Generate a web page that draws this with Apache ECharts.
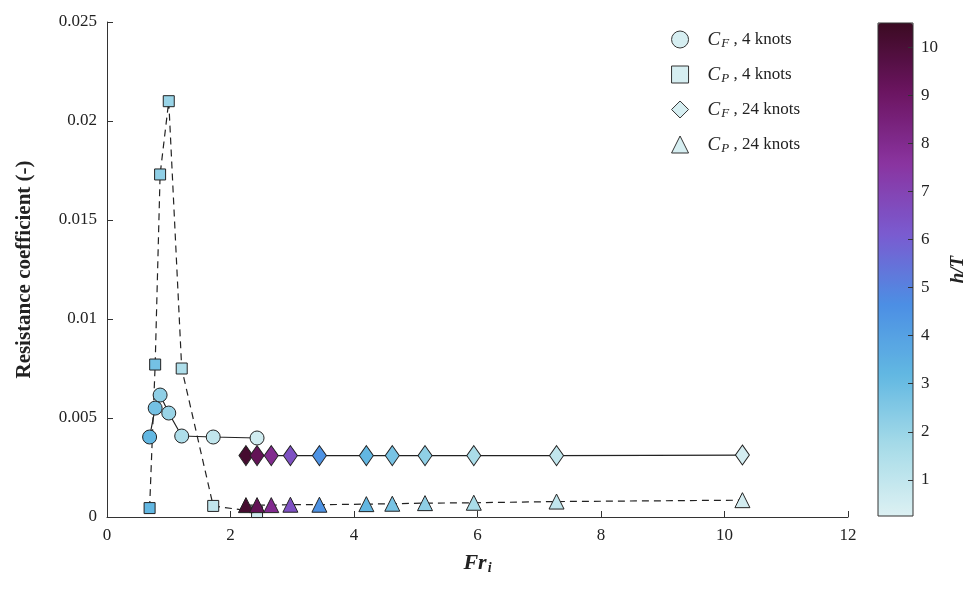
<!DOCTYPE html>
<html>
<head>
<meta charset="utf-8">
<script src="https://cdn.jsdelivr.net/npm/echarts@6/dist/echarts.min.js"></script>
<style>html,body{margin:0;background:#fff}#c{width:970px;height:594px}</style>
</head>
<body>
<div id="c"></div>
<script>
// Fr_i, coefficient, h/T
var cf4Fr = [0.69, 0.78, 0.86, 1.0, 1.21, 1.72, 2.43];
var cf4 = [0.00404, 0.0055, 0.00616, 0.00525, 0.00409, 0.00404, 0.00399];
var cp4 = [0.00045, 0.0077, 0.0173, 0.021, 0.0075, 0.00056, 0.00025];
var hT4 = [3.2, 2.8, 2.2, 2.0, 1.5, 1.0, 0.6];
var cp4Fr = [0.69, 0.78, 0.86, 1.0, 1.21, 1.72, 2.43];

var fr24 = [2.25, 2.43, 2.66, 2.97, 3.44, 4.2, 4.62, 5.15, 5.94, 7.28, 10.29];
var cf24 = [0.0031, 0.0031, 0.0031, 0.0031, 0.0031, 0.0031, 0.0031, 0.0031, 0.0031, 0.0031, 0.00313];
var cp24 = [0.0006, 0.0006, 0.0006, 0.00062, 0.00062, 0.00065, 0.00067, 0.0007, 0.00072, 0.00078, 0.00085];
var hT24 = [10.2, 9.3, 8.0, 6.5, 4.5, 3.2, 2.7, 2.2, 1.6, 1.0, 0.5];

var cbTicks = [1, 2, 3, 4, 5, 6, 7, 8, 9, 10];
var rampColors = ['#ddf1f3', '#a6dbe8', '#62b8e2', '#4c8fe4', '#7a5bd0', '#8a34a0', '#6c1562', '#3b0a22'];

function pts(xs, ys, cs) {
  return xs.map(function (x, i) { return cs ? [x, ys[i], cs[i]] : [x, ys[i]]; });
}

var serif = 'Liberation Serif';
var chart = echarts.init(document.getElementById('c'));

function lineSeries(data, dashed) {
  return {
    type: 'line', data: data, symbol: 'none', silent: true, z: 1,
    lineStyle: { color: '#222', width: 1.2, type: dashed ? [7, 5] : 'solid' }
  };
}
function markSeries(name, data, symbol, size) {
  return {
    type: 'scatter', name: name, data: data, symbol: symbol, symbolSize: size, z: 3,
    itemStyle: { borderColor: '#222', borderWidth: 1, opacity: 1 }
  };
}
var legendIcon = { color: '#d6eef1', borderColor: '#333', borderWidth: 1 };
var rich = {
  c: { fontFamily: serif, fontStyle: 'italic', fontSize: 19, color: '#222' },
  s: { fontFamily: serif, fontStyle: 'italic', fontSize: 13, color: '#222', verticalAlign: 'bottom', padding: [8, 0, 0, 1] },
  t: { fontFamily: serif, fontSize: 17, color: '#222' }
};

chart.setOption({
  animation: false,
  grid: [
    { left: 107, right: 122, top: 22, bottom: 77, outerBoundsMode: 'none' },
    { left: 878, width: 35, top: 23, height: 493, show: true, borderColor: '#333', borderWidth: 1, backgroundColor: 'transparent', z: 5, outerBoundsMode: 'none' }
  ],
  xAxis: [
    {
      gridIndex: 0, type: 'value', min: 0, max: 12, interval: 2,
      name: '{b|Fr}{bs|i}', nameLocation: 'middle', nameGap: 34,
      nameTextStyle: { rich: {
        b: { fontFamily: serif, fontStyle: 'italic', fontWeight: 'bold', fontSize: 22, color: '#222' },
        bs: { fontFamily: serif, fontStyle: 'italic', fontWeight: 'bold', fontSize: 14, color: '#222', verticalAlign: 'bottom', padding: [10, 0, 0, 1] }
      } },
      axisLine: { lineStyle: { color: '#333' } },
      axisTick: { inside: true, length: 6, lineStyle: { color: '#333' } },
      axisLabel: { fontFamily: serif, fontSize: 17, color: '#222', margin: 10 },
      splitLine: { show: false }
    },
    { gridIndex: 1, type: 'value', show: false, min: 0, max: 1 }
  ],
  yAxis: [
    {
      gridIndex: 0, type: 'value', min: 0, max: 0.025, interval: 0.005,
      name: 'Resistance coefficient (-)', nameLocation: 'middle', nameGap: 72,
      nameTextStyle: { fontFamily: serif, fontWeight: 'bold', fontSize: 21, color: '#222' },
      axisLine: { show: true, lineStyle: { color: '#333' } },
      axisTick: { show: true, inside: true, length: 6, lineStyle: { color: '#333' } },
      axisLabel: { fontFamily: serif, fontSize: 17, color: '#222', margin: 10,
        formatter: function (v) { return v === 0 ? '0' : String(+v.toFixed(3)); } },
      splitLine: { show: false }
    },
    {
      gridIndex: 1, type: 'value', position: 'right', min: 0.25, max: 10.5, z: 10,
      name: 'h/T', nameLocation: 'middle', nameGap: 36, nameRotate: 90,
      nameTextStyle: { fontFamily: serif, fontStyle: 'italic', fontWeight: 'bold', fontSize: 19, color: '#222' },
      axisLine: { show: false, onZero: false },
      axisTick: { show: true, inside: true, length: 5, customValues: cbTicks, lineStyle: { color: '#333' } },
      axisLabel: { fontFamily: serif, fontSize: 17, color: '#222', margin: 8, customValues: cbTicks },
      splitLine: { show: false }
    }
  ],
  visualMap: {
    type: 'continuous', min: 0.25, max: 10.5, dimension: 2,
    seriesIndex: [4, 5, 6, 7], padding: 0, z: 1,
    left: 878, top: 23, itemWidth: 35, itemHeight: 493,
    calculable: false, showLabel: false, text: null, hoverLink: false,
    inRange: { color: rampColors }
  },
  legend: {
    orient: 'vertical', right: 165, top: 25, itemGap: 15,
    itemWidth: 17, itemHeight: 17,
    data: [
      { name: 'cf4', icon: 'circle', itemStyle: legendIcon },
      { name: 'cp4', icon: 'rect', itemStyle: legendIcon },
      { name: 'cf24', icon: 'diamond', itemStyle: legendIcon },
      { name: 'cp24', icon: 'triangle', itemStyle: legendIcon }
    ],
    formatter: function (n) {
      var m = { cf4: ['F', '4'], cp4: ['P', '4'], cf24: ['F', '24'], cp24: ['P', '24'] }[n];
      return '{c|C}{s|' + m[0] + '}{t| , ' + m[1] + ' knots}';
    },
    textStyle: { rich: rich, padding: [0, 0, 0, 14] }
  },
  series: [
    lineSeries(pts(cf4Fr, cf4), false),
    lineSeries(pts(cp4Fr, cp4), true),
    lineSeries(pts(fr24, cf24), false),
    lineSeries(pts(fr24, cp24), true),
    markSeries('cf4', pts(cf4Fr, cf4, hT4), 'circle', 14),
    markSeries('cp4', pts(cp4Fr, cp4, hT4), 'rect', 11),
    markSeries('cf24', pts(fr24, cf24, hT24), 'diamond', [14, 20]),
    markSeries('cp24', pts(fr24, cp24, hT24), 'triangle', 15)
  ]
});
</script>
</body>
</html>
